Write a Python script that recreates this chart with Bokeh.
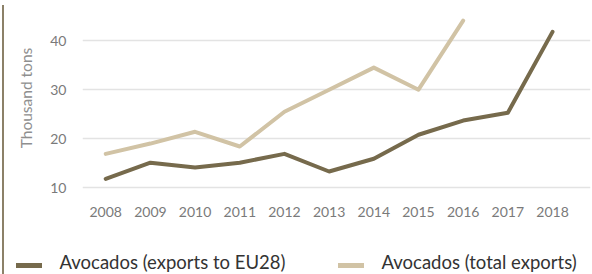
from bokeh.plotting import figure
from bokeh.models import FixedTicker, Div
from bokeh.layouts import row, column
from bokeh.embed import file_html
from bokeh.resources import INLINE

years = [2008, 2009, 2010, 2011, 2012, 2013, 2014, 2015, 2016, 2017, 2018]
eu28 = [11.8, 15.1, 14.1, 15.1, 16.9, 13.3, 15.9, 20.8, 23.7, 25.3, 41.8]
total_years = [2008, 2009, 2010, 2011, 2012, 2013, 2014, 2015, 2016]
total = [16.9, 19.0, 21.4, 18.4, 25.5, 30.0, 34.5, 30.0, 44.1]
y_ticks = [10, 20, 30, 40]
series_names = ["Avocados (exports to EU28)", "Avocados (total exports)"]

DARK = "#766a4c"
LIGHT = "#d1c3a5"
FONT = "Lato"

p = figure(width=583, height=225, output_backend="svg", toolbar_location=None,
           x_range=(2007.48, 2018.85), y_range=(8.4, 48.2),
           min_border_left=73, min_border_right=2, min_border_top=0, min_border_bottom=30)
p.outline_line_color = None

p.line(years, eu28, line_color=DARK, line_width=4, line_cap="round", line_join="round")
p.line(total_years, total, line_color=LIGHT, line_width=4, line_cap="round", line_join="round")

p.xaxis.ticker = FixedTicker(ticks=years)
p.yaxis.ticker = FixedTicker(ticks=y_ticks)
for ax in (p.xaxis, p.yaxis):
    ax.axis_line_color = None
    ax.major_tick_line_color = None
    ax.minor_tick_line_color = None
    ax.major_tick_out = 0
    ax.major_tick_in = 0
    ax.minor_tick_out = 0
    ax.major_label_text_font = FONT
    ax.major_label_text_font_size = "14px"
    ax.major_label_text_color = "#7a7a7a"
p.xaxis.major_label_standoff = 11
p.yaxis.major_label_standoff = 16
p.yaxis.axis_label = "Thousand tons"
p.yaxis.axis_label_text_font = FONT
p.yaxis.axis_label_text_font_style = "normal"
p.yaxis.axis_label_text_font_size = "15.5px"
p.yaxis.axis_label_text_color = "#8f8f8f"
p.yaxis.axis_label_standoff = 12

p.xgrid.grid_line_color = None
p.ygrid.grid_line_color = "#e3e3e3"
p.ygrid.grid_line_width = 1.5

# legend strip below the chart
swatch = ("display:inline-block;width:26px;height:5px;background:{c};"
          "position:relative;top:3px;margin-right:18px;flex:none")
legend_html = (
    f'<div style="display:flex;align-items:center;white-space:nowrap;padding-top:26px;'
    f'font-family:Lato;font-size:18.5px;line-height:22px;color:#333333;margin:0">'
    f'<span style="display:inline-block;width:7px;flex:none"></span>'
    f'<span style="{swatch.format(c=DARK)}"></span>'
    f'<span style="display:inline-block;width:278px;flex:none">{series_names[0]}</span>'
    f'<span style="{swatch.format(c=LIGHT)}"></span>'
    f'<span style="display:inline-block;flex:none">{series_names[1]}</span>'
    f'</div>'
)
lg = Div(text=legend_html, width=583, height=49, margin=0)

bar = Div(width=2, height=274, styles={"background-color": "#8c8168"})
lay = row(bar, column(p, lg), styles={"margin-left": "-3.5px", "margin-top": "0px"})

open("out.html", "w").write(file_html(lay, INLINE))
